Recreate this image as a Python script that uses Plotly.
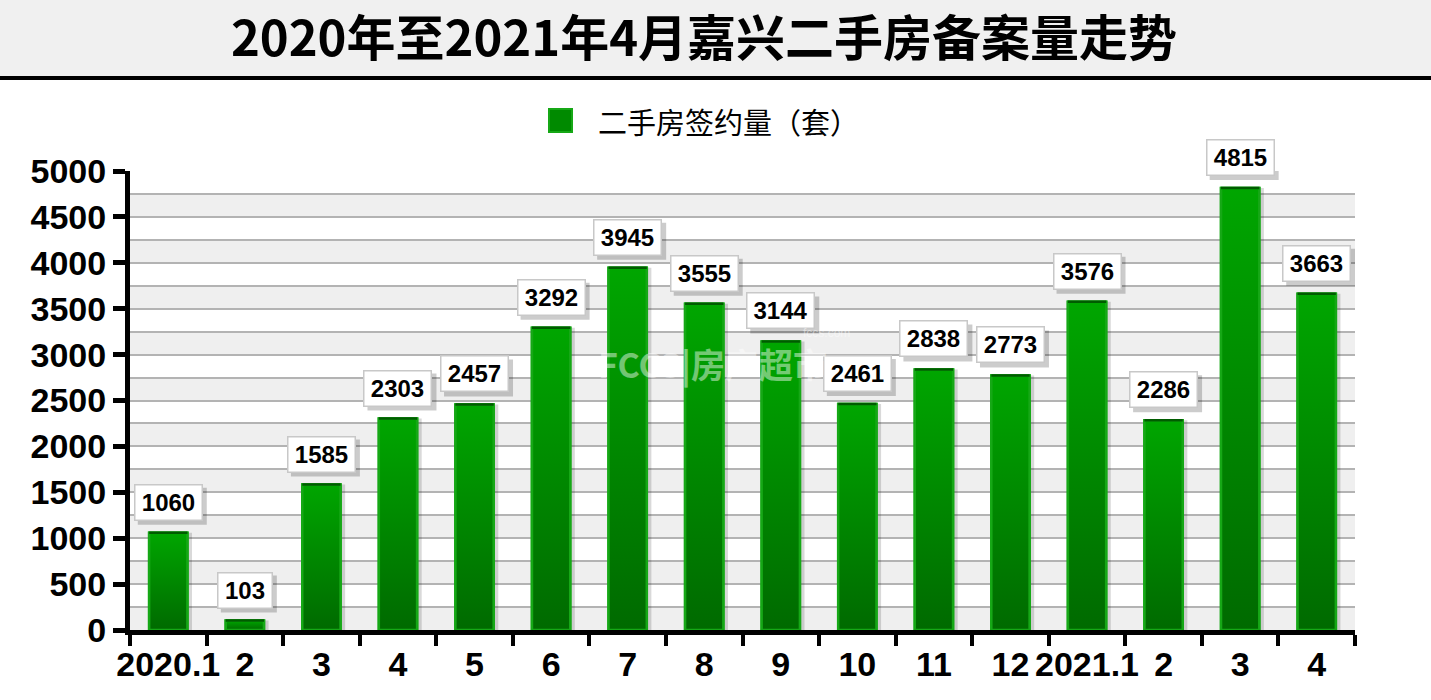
import plotly.graph_objects as go

# ---- data ----
month_labels = ["2020.1", "2", "3", "4", "5", "6", "7", "8", "9", "10", "11", "12",
                "2021.1", "2", "3", "4"]
signed_volume = [1060, 103, 1585, 2303, 2457, 3292, 3945, 3555, 3144, 2461, 2838, 2773,
                 3576, 2286, 4815, 3663]
y_ticks = [0, 500, 1000, 1500, 2000, 2500, 3000, 3500, 4000, 4500, 5000]
series_name = "二手房签约量（套）"
title_text = "2020年至2021年4月嘉兴二手房备案量走势"

W, H = 1431, 700
ML, MR, MT, MB = 130, 76, 171, 70
PW, PH = W - ML - MR, H - MT - MB
BAR_W = 0.5


def px_x(p):
    return (p - ML) / PW


def px_y(p):
    return (H - MB - p) / PH


NUM_FAMILY = "Liberation Sans, Arial, sans-serif"
CJK = "Noto Sans CJK SC, sans-serif"
GRAD = [[0, "#006a00"], [1, "#00a600"]]
EDGE = "#16a816"

xs = list(range(len(month_labels)))

fig = go.Figure()
# soft shadow behind bars
fig.add_trace(go.Bar(
    x=xs, y=signed_volume, width=BAR_W, offset=-BAR_W / 2 + 0.06,
    marker=dict(color="rgba(0,0,0,0.15)", line=dict(width=0)),
    hoverinfo="skip", showlegend=False,
))
# main bars
fig.add_trace(go.Bar(
    x=xs, y=signed_volume, width=BAR_W, offset=-BAR_W / 2, name=series_name,
    marker=dict(color="#008a00", line=dict(color=EDGE, width=2.5)),
    showlegend=False,
))
# vertical gradient fill over each bar (same rectangle as the bar)
for x, v in zip(xs, signed_volume):
    fig.add_trace(go.Scatter(
        x=[x - BAR_W / 2, x + BAR_W / 2, x + BAR_W / 2, x - BAR_W / 2, x - BAR_W / 2],
        y=[0, 0, v, v, 0], mode="lines", fill="toself",
        fillgradient=dict(type="vertical", colorscale=GRAD, start=0, stop=v),
        line=dict(color=EDGE, width=2.5), hoverinfo="skip", showlegend=False,
    ))
    # darker top edge
    fig.add_trace(go.Scatter(
        x=[x - BAR_W / 2, x + BAR_W / 2], y=[v, v], mode="lines",
        line=dict(color="#005c00", width=2.5), hoverinfo="skip", showlegend=False,
    ))

shapes = []
# alternating grey bands
for lo in y_ticks[:-1]:
    shapes.append(dict(type="rect", xref="paper", yref="y", x0=0, x1=1,
                       y0=lo, y1=lo + 250, fillcolor="#efefef", line=dict(width=0),
                       layer="below"))
# title band
shapes.append(dict(type="rect", xref="paper", yref="paper", x0=-0.2, x1=1.2,
                   y0=px_y(76), y1=px_y(-20), fillcolor="#f0f0f0", line=dict(width=0),
                   layer="below"))
shapes.append(dict(type="line", xref="paper", yref="paper", x0=-0.2, x1=1.2,
                   y0=px_y(78), y1=px_y(78), line=dict(color="black", width=4)))
# legend swatch
shapes.append(dict(type="rect", xref="paper", yref="paper",
                   x0=px_x(549), x1=px_x(572), y0=px_y(132), y1=px_y(109),
                   fillcolor="#008a00", line=dict(color=EDGE, width=2)))

annotations = []
BOX_H = 26
for x, v in zip(xs, signed_volume):
    t = str(v)
    w = 13 * len(t) + 6
    tot_w = w + 2 * 4 + 3
    tot_h = BOX_H + 2 * 4 + 3
    # label box shadow
    shapes.append(dict(type="rect", xref="x", yref="y", xsizemode="pixel",
                       ysizemode="pixel", xanchor=x, yanchor=v,
                       x0=-tot_w / 2 + 4, x1=tot_w / 2 + 4, y0=12 - 4, y1=12 - 4 + tot_h,
                       fillcolor="rgba(0,0,0,0.2)", line=dict(width=0)))
    annotations.append(dict(x=x, y=v, xref="x", yref="y", text=t, showarrow=False,
                            yanchor="bottom", yshift=12, width=w, height=BOX_H,
                            bgcolor="white", borderpad=4, borderwidth=1.5,
                            bordercolor="#c8c8c8",
                            font=dict(size=24, family=NUM_FAMILY, color="black",
                                      weight="bold")))
# legend text
annotations.append(dict(x=px_x(596), y=px_y(121), xref="paper", yref="paper",
                        xanchor="left", yanchor="middle", showarrow=False,
                        text=series_name, font=dict(size=29, family=CJK, color="black")))
# watermark
annotations.append(dict(x=px_x(712), y=px_y(363), xref="paper", yref="paper",
                        showarrow=False, text="FCCS|房产超市", opacity=0.45,
                        font=dict(size=34, family=CJK, color="white", weight="bold")))
annotations.append(dict(x=px_x(826), y=px_y(333), xref="paper", yref="paper",
                        showarrow=False, text="fccs.com", opacity=0.45,
                        font=dict(size=12, family="Liberation Sans", color="white")))

fig.update_layout(
    width=W, height=H,
    margin=dict(l=ML, r=MR, t=MT, b=MB),
    paper_bgcolor="white", plot_bgcolor="white",
    barmode="overlay",
    title=dict(text=title_text, x=704 / W, xanchor="center", y=1 - 39 / H,
               yanchor="middle",
               font=dict(size=49, family=CJK, color="black", weight="bold")),
    shapes=shapes, annotations=annotations,
    showlegend=False,
)
fig.update_xaxes(
    range=[-0.5, len(xs) - 0.5], tickmode="array", tickvals=xs, ticktext=month_labels,
    ticks="", showgrid=False, zeroline=False,
    showline=True, linecolor="black", linewidth=5,
    tickfont=dict(size=34, family=NUM_FAMILY, color="black", weight="bold"),
    minor=dict(tickmode="array", tickvals=[i - 0.5 for i in range(len(xs) + 1)],
               ticks="outside", ticklen=11, tickwidth=4, tickcolor="black", showgrid=False),
)
fig.update_yaxes(
    range=[0, 5000], tickmode="array", tickvals=y_ticks,
    ticks="outside", ticklen=12, tickwidth=5, tickcolor="black",
    showgrid=True, gridcolor="#b3b3b3", gridwidth=1.5, zeroline=False,
    showline=True, linecolor="black", linewidth=5,
    tickfont=dict(size=34, family=NUM_FAMILY, color="black", weight="bold"),
    minor=dict(dtick=250, showgrid=True, gridcolor="#b3b3b3", gridwidth=1.5, ticks=""),
)

fig.write_html("out.html", config={"displayModeBar": False},
               post_script="document.body.style.margin='0px';")
